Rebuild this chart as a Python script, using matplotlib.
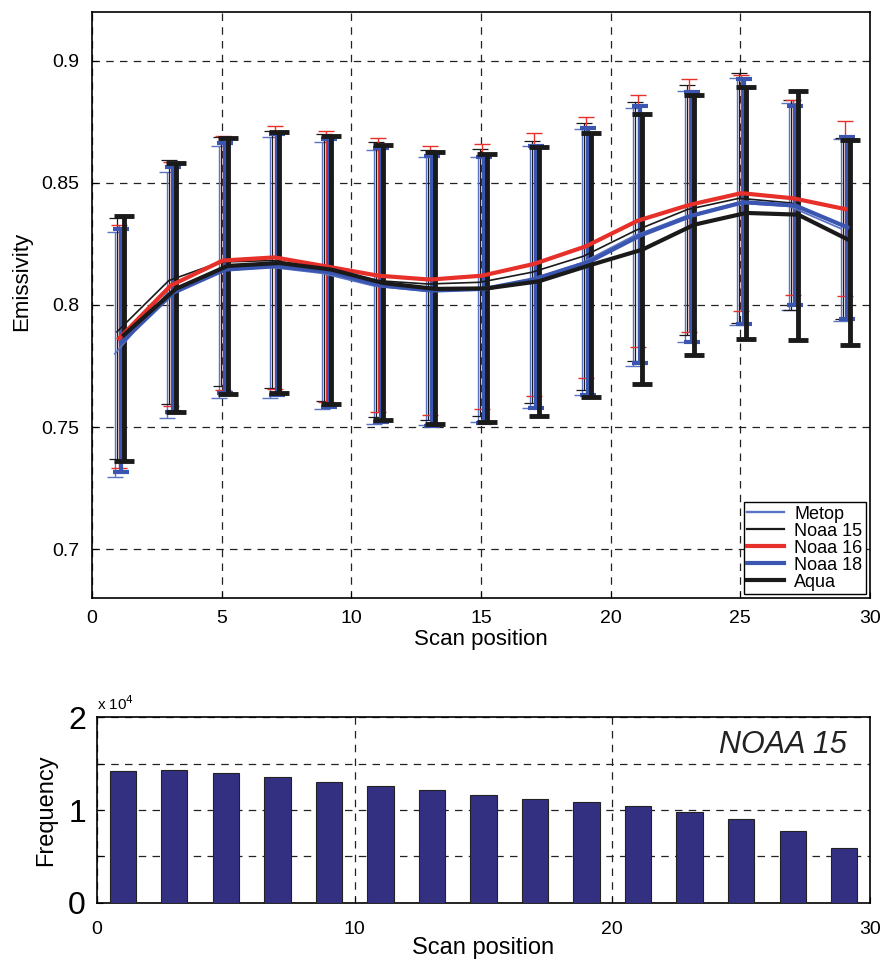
import numpy as np
import matplotlib
matplotlib.use('Agg')
import matplotlib.pyplot as plt
from matplotlib.lines import Line2D

plt.rcParams['font.family'] = ['Liberation Sans', 'DejaVu Sans']

# scan positions (every second one)
scan_pos = [1, 3, 5, 7, 9, 11, 13, 15, 17, 19, 21, 23, 25, 27, 29]

# mean emissivity per sensor
metop_mean = [0.7800, 0.8045, 0.8140, 0.8155, 0.8130, 0.8078, 0.8057, 0.8063, 0.8105, 0.8172, 0.8282, 0.8363, 0.8418, 0.8405, 0.8313]
noaa15_mean = [0.7890, 0.8100, 0.8176, 0.8182, 0.8150, 0.8100, 0.8086, 0.8093, 0.8134, 0.8200, 0.8305, 0.8391, 0.8437, 0.8418, 0.8325]
noaa16_mean = [0.7863, 0.8080, 0.8182, 0.8195, 0.8158, 0.8120, 0.8104, 0.8120, 0.8168, 0.8240, 0.8345, 0.8410, 0.8458, 0.8437, 0.8393]
noaa18_mean = [0.7847, 0.8050, 0.8145, 0.8159, 0.8135, 0.8080, 0.8059, 0.8066, 0.8107, 0.8175, 0.8284, 0.8366, 0.8421, 0.8407, 0.8318]
aqua_mean = [0.7877, 0.8066, 0.8160, 0.8172, 0.8145, 0.8090, 0.8066, 0.8068, 0.8097, 0.8164, 0.8227, 0.8329, 0.8377, 0.8370, 0.8264]

# upper / lower ends of the error bars
metop_hi = [0.8298, 0.8544, 0.8650, 0.8686, 0.8669, 0.8636, 0.8607, 0.8605, 0.8653, 0.8720, 0.8807, 0.8877, 0.8930, 0.8827, 0.8680]
metop_lo = [0.7296, 0.7536, 0.7618, 0.7620, 0.7574, 0.7512, 0.7510, 0.7520, 0.7580, 0.7630, 0.7750, 0.7850, 0.7918, 0.7981, 0.7934]
noaa15_hi = [0.8357, 0.8594, 0.8687, 0.8714, 0.8700, 0.8667, 0.8636, 0.8639, 0.8672, 0.8746, 0.8831, 0.8903, 0.8951, 0.8841, 0.8683]
noaa15_lo = [0.7369, 0.7593, 0.7667, 0.7660, 0.7608, 0.7540, 0.7530, 0.7546, 0.7598, 0.7650, 0.7770, 0.7877, 0.7926, 0.7978, 0.7943]
noaa16_hi = [0.8328, 0.8585, 0.8694, 0.8732, 0.8714, 0.8683, 0.8653, 0.8659, 0.8705, 0.8770, 0.8858, 0.8924, 0.8943, 0.8841, 0.8753]
noaa16_lo = [0.7333, 0.7588, 0.7653, 0.7657, 0.7604, 0.7560, 0.7549, 0.7574, 0.7628, 0.7700, 0.7830, 0.7890, 0.7975, 0.8042, 0.8036]
noaa18_hi = [0.8311, 0.8564, 0.8664, 0.8700, 0.8678, 0.8642, 0.8612, 0.8608, 0.8653, 0.8724, 0.8813, 0.8872, 0.8924, 0.8817, 0.8686]
noaa18_lo = [0.7314, 0.7563, 0.7640, 0.7631, 0.7581, 0.7522, 0.7503, 0.7515, 0.7577, 0.7631, 0.7762, 0.7847, 0.7922, 0.8000, 0.7943]
aqua_hi = [0.8366, 0.8581, 0.8684, 0.8710, 0.8694, 0.8657, 0.8626, 0.8620, 0.8646, 0.8705, 0.8782, 0.8862, 0.8893, 0.8876, 0.8676]
aqua_lo = [0.7362, 0.7563, 0.7635, 0.7640, 0.7596, 0.7529, 0.7511, 0.7520, 0.7546, 0.7622, 0.7676, 0.7796, 0.7859, 0.7858, 0.7837]

# NOAA 15 sample count per scan position
freq = [14210, 14290, 14000, 13570, 13030, 12610, 12110, 11570, 11180, 10820, 10390, 9780, 9000, 7710, 5930]

fig = plt.figure(figsize=(8.9, 9.67), dpi=100)
ax1 = fig.add_axes([0.1034, 0.3816, 0.874, 0.606])
ax2 = fig.add_axes([0.109, 0.0662, 0.8685, 0.1923])

x = np.array(scan_pos, dtype=float)

# (label, mean, lo, hi, colour, line width, errorbar width, cap size, x shift)
series = [
    ('Metop', metop_mean, metop_lo, metop_hi, '#5a74c4', 1.3, 1.0, 6, -0.12),
    ('Noaa 15', noaa15_mean, noaa15_lo, noaa15_hi, '#1a1a1a', 1.2, 0.9, 6, -0.04),
    ('Noaa 16', noaa16_mean, noaa16_lo, noaa16_hi, '#e8302a', 3.0, 1.0, 6, 0.04),
    ('Noaa 18', noaa18_mean, noaa18_lo, noaa18_hi, '#3a56b0', 3.0, 3.0, 6, 0.13),
    ('Aqua', aqua_mean, aqua_lo, aqua_hi, '#1a1a1a', 3.0, 3.5, 7, 0.23),
]

handles = []
for label, m, lo, hi, col, lw, elw, cs, dx in series:
    m = np.array(m)
    yerr = [m - np.array(lo), np.array(hi) - m]
    ax1.errorbar(x + dx, m, yerr=yerr, color=col, lw=lw, elinewidth=elw,
                 capsize=cs, capthick=elw)
    handles.append(Line2D([], [], color=col, lw=lw + (0.4 if lw < 2 else 0), label=label))

ax1.set_xlim(0, 30)
ax1.set_ylim(0.68, 0.92)
ax1.set_xticks([0, 5, 10, 15, 20, 25, 30])
ax1.set_yticks([0.7, 0.75, 0.8, 0.85, 0.9])
ax1.set_yticklabels(['0.7', '0.75', '0.8', '0.85', '0.9'])
ax1.grid(True, color='#222222', ls=(0, (6, 5)), lw=0.9)
ax1.tick_params(direction='in', labelsize=14, length=4, pad=9)
ax1.set_xlabel('Scan position', fontsize=16, labelpad=1)
ax1.set_ylabel('Emissivity', fontsize=16)
ax1.yaxis.set_label_coords(-0.077, 0.54)
for s in ax1.spines.values():
    s.set_linewidth(1.2)

leg = ax1.legend(handles=handles, loc='lower right', fontsize=13, handlelength=2.0,
                 labelspacing=0.0, borderpad=0.2, handletextpad=0.6, fancybox=False,
                 framealpha=1, edgecolor='black', borderaxespad=0.2)
leg.get_frame().set_linewidth(1.0)

# frequency bars
ax2.bar(scan_pos, freq, width=1.02, color='#333082', edgecolor='#222222', lw=0.8, zorder=3)
ax2.set_xlim(0, 30)
ax2.set_ylim(0, 20000)
ax2.set_xticks([0, 10, 20, 30])
ax2.set_yticks([0, 5000, 10000, 15000, 20000])
ax2.set_yticklabels(['0', '', '1', '', '2'])
ax2.grid(True, color='#222222', ls=(0, (6, 5)), lw=0.9, zorder=0)
ax2.tick_params(axis='y', direction='in', labelsize=23, length=4, pad=8)
ax2.tick_params(axis='x', direction='in', labelsize=14, length=4, pad=13)
ax2.set_xlabel('Scan position', fontsize=17, labelpad=-1)
ax2.set_ylabel('Frequency', fontsize=17, labelpad=8)
ax2.text(0.0, 1.02, r'x 10$^4$', transform=ax2.transAxes, fontsize=11, va='bottom')
ax2.text(0.97, 0.93, 'NOAA 15', transform=ax2.transAxes, fontsize=22, style='italic',
         ha='right', va='top', color='#222222')
for s in ax2.spines.values():
    s.set_linewidth(1.2)

fig.savefig('out.png', dpi=100)
